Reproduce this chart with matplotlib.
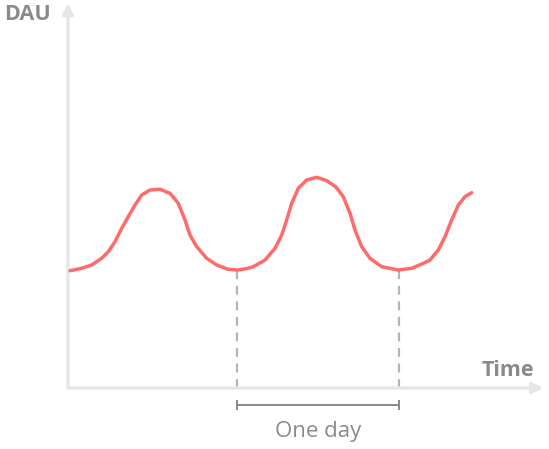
import matplotlib.pyplot as plt

# Données (temps en heures, DAU en unités arbitraires)
temps_h = [0.30, 2.03, 3.51, 4.99, 5.97, 6.96, 7.96, 8.93, 9.93, 10.92,
           12.15, 13.63, 15.11, 16.34, 17.33, 18.07, 19.07, 20.55, 22.03, 23.75,
           25.23, 26.71, 27.45, 29.19, 30.67, 31.66, 32.40, 33.14, 34.12, 35.36,
           36.84, 38.33, 39.70, 40.79, 41.78, 42.52, 43.51, 44.74, 46.47, 48.93,
           50.92, 52.64, 53.63, 54.86, 55.85, 56.84, 57.82, 58.81, 59.81]
dau = [117.3, 119.7, 123.0, 129.7, 136.3, 146.3, 159.7, 171.3, 183.0, 193.0,
       198.0, 198.8, 194.7, 184.7, 168.0, 153.0, 141.3, 129.7, 123.0, 118.7,
       118.0, 119.7, 121.3, 128.0, 139.7, 153.0, 168.0, 184.7, 199.7, 208.0,
       210.7, 207.3, 201.0, 191.3, 174.7, 158.0, 141.3, 129.7, 121.3, 118.0,
       119.7, 124.7, 128.0, 138.0, 151.3, 168.0, 183.0, 191.3, 195.3]
jours = [25.0, 49.0]          # creux marquant le début de chaque journée
creux = [118.0, 118.0]
label_jour = 'One day'

GRIS_AXE = '#e6e6e6'
GRIS_TEXTE = '#8a8a8a'
ROUGE = '#ff6b6b'

plt.rcParams['font.family'] = ['Open Sans', 'DejaVu Sans']

fig = plt.figure(figsize=(5.49, 4.49), dpi=100)
ax = fig.add_axes([0, 0, 1, 1])
ax.set_xlim(-10.07, 71.26)
ax.set_ylim(-61, 388)
ax.axis('off')

# Axes avec flèches
ax.annotate('', xy=(0, 385), xytext=(0, 0),
            arrowprops=dict(arrowstyle='-|>', color=GRIS_AXE, lw=2.4,
                            mutation_scale=16, shrinkA=0, shrinkB=0))
ax.annotate('', xy=(70.4, 0), xytext=(0, 0),
            arrowprops=dict(arrowstyle='-|>', color=GRIS_AXE, lw=2.4,
                            mutation_scale=16, shrinkA=0, shrinkB=0))

# Courbe DAU
ax.plot(temps_h, dau, color=ROUGE, lw=2.5, solid_joinstyle='round',
        solid_capstyle='round', zorder=3)

# Lignes pointillées aux creux
for t, v in zip(jours, creux):
    ax.plot([t, t], [0, v], color='#b5b5b5', lw=1.6, ls=(0, (4, 3)), zorder=2)

# Accolade "One day"
y_acc = -17
ax.plot(jours, [y_acc, y_acc], color=GRIS_TEXTE, lw=1.4)
for t in jours:
    ax.plot([t, t], [y_acc - 4, y_acc + 4], color=GRIS_TEXTE, lw=1.4)
ax.text(sum(jours) / 2, -43, label_jour, ha='center', va='center',
        fontsize=16, color=GRIS_TEXTE)

# Titres des axes
ax.text(-9.4, 373, 'DAU', ha='left', va='center', fontsize=15.5,
        fontweight='bold', color=GRIS_TEXTE)
ax.text(69.0, 18, 'Time', ha='right', va='center', fontsize=15.5,
        fontweight='bold', color=GRIS_TEXTE)

plt.savefig('out.png', dpi=100)
plt.close()
